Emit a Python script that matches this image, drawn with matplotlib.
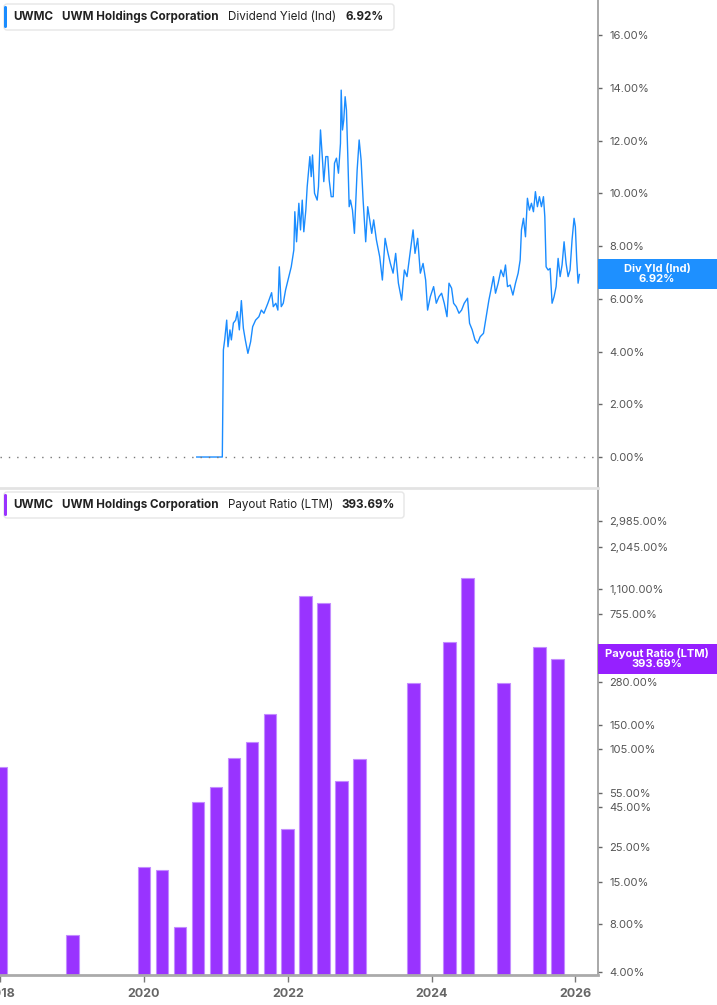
import matplotlib.pyplot as plt
from matplotlib.patches import FancyBboxPatch, Rectangle
from matplotlib.transforms import Affine2D, blended_transform_factory
from matplotlib.ticker import NullLocator

plt.rcParams['font.family'] = ['Inter', 'DejaVu Sans']

W, H = 717, 1005

# Dividend Yield (Ind), in %, x as decimal year
yield_t = [
    2020.732, 2021.088, 2021.103, 2021.121, 2021.149, 2021.167, 2021.194, 2021.214,
    2021.242, 2021.274, 2021.297, 2021.325, 2021.353, 2021.381, 2021.408, 2021.444,
    2021.482, 2021.510, 2021.551, 2021.597, 2021.631, 2021.667, 2021.722, 2021.774,
    2021.797, 2021.833, 2021.861, 2021.881, 2021.908, 2021.936, 2021.968, 2022.014,
    2022.047, 2022.083, 2022.097, 2022.121, 2022.153, 2022.176, 2022.200, 2022.222,
    2022.250, 2022.269, 2022.306, 2022.325, 2022.343, 2022.371, 2022.408, 2022.426,
    2022.454, 2022.482, 2022.500, 2022.528, 2022.556, 2022.575, 2022.603, 2022.631,
    2022.649, 2022.676, 2022.704, 2022.732, 2022.742, 2022.760, 2022.778, 2022.797,
    2022.815, 2022.833, 2022.853, 2022.871, 2022.899, 2022.926, 2022.964, 2022.992,
    2023.019, 2023.047, 2023.083, 2023.111, 2023.139, 2023.167, 2023.194, 2023.232,
    2023.278, 2023.315, 2023.353, 2023.389, 2023.426, 2023.464, 2023.500, 2023.538,
    2023.583, 2023.621, 2023.658, 2023.694, 2023.742, 2023.769, 2023.806, 2023.843,
    2023.881, 2023.917, 2023.944, 2023.982, 2024.028, 2024.065, 2024.103, 2024.139,
    2024.176, 2024.214, 2024.242, 2024.278, 2024.306, 2024.343, 2024.381, 2024.417,
    2024.454, 2024.500, 2024.528, 2024.565, 2024.603, 2024.639, 2024.676, 2024.722,
    2024.760, 2024.797, 2024.825, 2024.861, 2024.889, 2024.926, 2024.964, 2025.000,
    2025.028, 2025.056, 2025.093, 2025.131, 2025.167, 2025.204, 2025.232, 2025.250,
    2025.278, 2025.306, 2025.333, 2025.361, 2025.389, 2025.417, 2025.444, 2025.472,
    2025.500, 2025.528, 2025.556, 2025.575, 2025.593, 2025.621, 2025.649, 2025.676,
    2025.704, 2025.732, 2025.760, 2025.788, 2025.815, 2025.843, 2025.871, 2025.899,
    2025.926, 2025.954, 2025.982, 2026.000, 2026.019, 2026.038, 2026.056,
]
yield_v = [
    0.00, 0.00, 4.06, 4.44, 5.19, 4.18, 4.82, 4.44,
    5.08, 5.19, 5.51, 4.82, 5.93, 4.88, 4.44, 3.93,
    4.37, 4.94, 5.19, 5.32, 5.57, 5.45, 5.83, 6.23,
    5.70, 5.83, 5.57, 7.21, 5.70, 5.83, 6.33, 6.84,
    7.21, 7.85, 9.30, 8.16, 9.62, 8.61, 9.74, 8.54,
    9.36, 10.25, 11.39, 10.63, 11.45, 10.00, 9.74, 10.25,
    12.40, 11.26, 10.44, 11.39, 11.39, 10.50, 9.87, 9.87,
    11.14, 11.33, 10.76, 11.89, 13.91, 12.40, 12.78, 13.66,
    13.16, 11.51, 9.49, 9.74, 9.36, 8.48, 10.88, 12.02,
    11.26, 9.74, 8.16, 9.49, 8.99, 8.48, 8.99, 8.23,
    7.59, 6.71, 8.29, 7.78, 7.34, 6.97, 7.72, 6.59,
    5.95, 7.09, 6.84, 7.59, 8.61, 7.72, 8.29, 6.97,
    7.34, 6.71, 5.57, 6.08, 6.46, 5.83, 6.08, 6.21,
    5.83, 5.32, 6.59, 6.40, 5.83, 5.70, 5.45, 5.57,
    5.83, 6.02, 5.07, 4.82, 4.44, 4.31, 4.56, 4.69,
    5.32, 5.95, 6.33, 6.84, 6.21, 6.59, 7.09, 6.84,
    7.28, 6.46, 6.52, 6.14, 6.59, 6.97, 7.47, 8.61,
    9.05, 8.35, 9.81, 9.36, 9.62, 9.30, 10.06, 9.49,
    9.87, 9.49, 9.87, 9.11, 7.21, 7.09, 7.15, 5.83,
    6.08, 6.46, 7.53, 6.84, 7.28, 8.16, 7.34, 6.84,
    7.09, 8.23, 9.05, 8.73, 7.47, 6.59, 6.92,
]

# Payout Ratio (LTM), in %, quarter ends as decimal year
payout_t = [2018.0, 2019.0, 2020.0, 2020.25, 2020.5, 2020.75, 2021.0, 2021.25,
            2021.5, 2021.75, 2022.0, 2022.25, 2022.5, 2022.75, 2023.0, 2023.75,
            2024.25, 2024.5, 2025.0, 2025.5, 2025.75]
payout_v = [79, 5.9, 17.7, 16.8, 6.7, 47.3, 58.9, 91.5,
            115.8, 174.4, 31.3, 989, 892, 64.9, 89, 275,
            505, 1294, 277, 470, 393.69]

yield_ticks = [0, 2, 4, 6, 8, 10, 12, 14, 16]
payout_ticks = [4, 8, 15, 25, 45, 55, 105, 150, 280, 755, 1100, 2045, 2985]
year_ticks = [2018, 2020, 2022, 2024, 2026]

BLUE = '#1a8cff'
PURPLE = '#9933ff'
TICK_COLOR = '#555555'

fig = plt.figure(figsize=(W / 100, H / 100), dpi=100)
# pixel coordinates, origin top-left
pix = Affine2D().scale(1 / W, -1 / H).translate(0, 1) + fig.transFigure


def fy(py):
    return 1 - py / H


ax1 = fig.add_axes([0, fy(487), 598 / W, fy(0) - fy(487)])
ax2 = fig.add_axes([0, fy(975), 598 / W, fy(488) - fy(975)])

# --- top panel: dividend yield ---
ax1.plot(yield_t, yield_v, color=BLUE, lw=1.0)
ax1.axhline(0, color='#777777', lw=1, ls=(0, (1, 5)))
ax1.set_xlim(2017.995, 2026.315)
ax1.set_ylim(-1.137, 17.327)
for s in ['top', 'bottom', 'left']:
    ax1.spines[s].set_visible(False)
ax1.spines['right'].set_color('#999999')
ax1.spines['right'].set_linewidth(1.2)
ax1.set_xticks([])
ax1.yaxis.tick_right()
ax1.set_yticks(yield_ticks)
ax1.set_yticklabels([f'{v:.2f}%' for v in yield_ticks])
ax1.tick_params(axis='y', length=3, width=1, color='#666666', pad=5,
                labelsize=8, labelcolor=TICK_COLOR)

# --- bottom panel: payout ratio ---
ax2.bar(payout_t, payout_v, width=0.177, bottom=1, color=PURPLE,
        edgecolor='#c38cff', linewidth=0.8)
ax2.set_yscale('log')
ax2.set_xlim(2017.995, 2026.315)
ax2.set_ylim(3.811, 4824)
ax2.spines['left'].set_visible(False)
ax2.spines['top'].set_color('#e3e3e3')
ax2.spines['top'].set_linewidth(2)
ax2.spines['right'].set_color('#999999')
ax2.spines['right'].set_linewidth(1.2)
ax2.spines['bottom'].set_color('#aaaaaa')
ax2.spines['bottom'].set_linewidth(2)
ax2.yaxis.tick_right()
ax2.yaxis.set_minor_locator(NullLocator())
ax2.set_yticks(payout_ticks)
ax2.set_yticklabels([f'{v:,.2f}%' for v in payout_ticks])
ax2.tick_params(axis='y', length=3, width=1, color='#666666', pad=5,
                labelsize=8, labelcolor=TICK_COLOR)
ax2.set_xticks(year_ticks)
ax2.set_xticklabels([str(y) for y in year_ticks], fontweight='bold')
ax2.tick_params(axis='x', length=5, width=1, color='#777777', pad=4,
                labelsize=9, labelcolor='#666666')

# --- legend boxes ---
def legend_box(top, right, color, metric, value, value_x):
    box = FancyBboxPatch((4, top), right - 4, 26, boxstyle='round,pad=0,rounding_size=3',
                         facecolor='white', edgecolor='#e6e6e6', lw=1,
                         transform=pix, zorder=5)
    fig.add_artist(box)
    accent = FancyBboxPatch((4, top + 2), 3, 22, boxstyle='round,pad=0,rounding_size=1.5',
                            facecolor=color, edgecolor='none', transform=pix, zorder=6)
    fig.add_artist(accent)
    yc = top + 13
    fs = 8.4
    fig.text(13, yc, 'UWMC', transform=pix, fontsize=fs, fontweight='bold',
             color='#222222', va='center', zorder=7)
    fig.text(62, yc, 'UWM Holdings Corporation', transform=pix, fontsize=fs,
             fontweight='bold', color='#222222', va='center', zorder=7)
    fig.text(228, yc, metric, transform=pix, fontsize=fs, color='#222222',
             va='center', zorder=7)
    fig.text(value_x, yc, value, transform=pix, fontsize=fs, fontweight='bold',
             color='#222222', va='center', zorder=7)


legend_box(4, 394, BLUE, 'Dividend Yield (Ind)', '6.92%', 345)
legend_box(492, 404, PURPLE, 'Payout Ratio (LTM)', '393.69%', 341)

# --- last value tags on the right axis ---
last_yield = yield_v[-1]
tr1 = blended_transform_factory(ax1.transAxes, ax1.transData)
ax1.add_patch(Rectangle((1.0, last_yield - 0.569), 119 / 598, 1.138, transform=tr1,
                        facecolor='#1e90ff', edgecolor='none', clip_on=False, zorder=5))
ax1.text(1 + 59 / 598, last_yield, f'Div Yld (Ind)\n{last_yield:.2f}%', transform=tr1,
         ha='center', va='center', color='white', fontsize=8, fontweight='bold',
         linespacing=1.0, zorder=6)

last_payout = payout_v[-1]
tr2 = blended_transform_factory(ax2.transAxes, ax2.transData)
ax2.add_patch(Rectangle((1.0, last_payout / 1.246), 119 / 598,
                        last_payout * 1.246 - last_payout / 1.246, transform=tr2,
                        facecolor='#9620ff', edgecolor='none', clip_on=False, zorder=5))
ax2.text(1 + 59 / 598, last_payout, f'Payout Ratio (LTM)\n{last_payout:.2f}%',
         transform=tr2, ha='center', va='center', color='white', fontsize=8,
         fontweight='bold', linespacing=1.0, zorder=6)

fig.savefig('out.png', dpi=100)
